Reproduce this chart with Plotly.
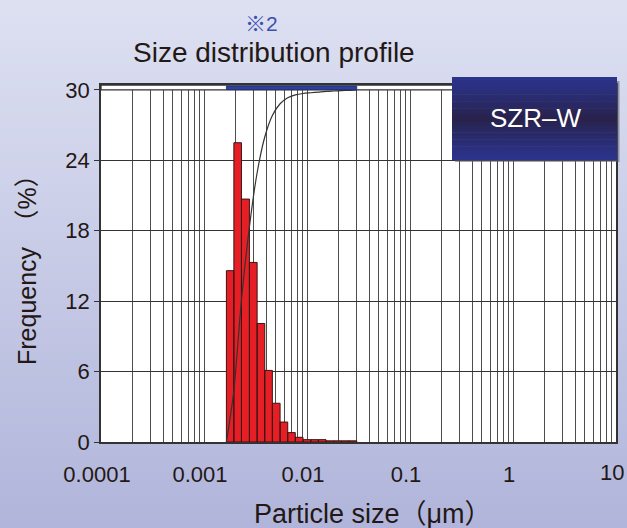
import numpy as np
import plotly.graph_objects as go

# ---------------- data ----------------
bin_edges_um = [0.00165, 0.00195, 0.00231, 0.00276, 0.00328, 0.00389, 0.00461,
                0.00548, 0.0065, 0.0077, 0.00915, 0.0109, 0.0129, 0.0153,
                0.0182, 0.0216, 0.0256, 0.0304]
frequency_pct = [14.6, 25.5, 20.7, 15.3, 10.1, 6.1, 3.3, 1.7, 0.8, 0.4,
                 0.2, 0.2, 0.2, 0.1, 0.1, 0.1, 0.1]
x_decades = [0.0001, 0.001, 0.01, 0.1, 1, 10]
x_tick_labels = ["0.0001", "0.001", "0.01", "0.1", "1", "10"]
y_tick_values = [0, 6, 12, 18, 24, 30]
y_max = 30
sample_name = "SZR\u2013W"
title_text = "Size distribution profile"
note_text = "\u203b2"
x_title = "Particle size\uff08\u03bcm\uff09"
y_title = "Frequency\u3000\uff08%\uff09"

# ---------------- layout geometry ----------------
W, H = 627, 528
L, R, T, B = 101, 616, 85, 442
PW, PH = R - L, B - T
Y_TOP = 30.42


def px2x(p):
    return (p - L) / PW


def py2y(p):
    return (B - p) / PH


def lx(v):  # data value on the log axis -> paper x
    return (np.log10(v) + 4) / 5


FONT = "Liberation Sans, Arial, Noto Sans CJK JP, sans-serif"
INK = "#231815"

fig = go.Figure()

# histogram bars as filled polygons
bx, by = [], []
for l, r, h in zip(bin_edges_um[:-1], bin_edges_um[1:], frequency_pct):
    bx += [l, l, r, r, l, None]
    by += [0, h, h, 0, 0, None]
fig.add_trace(go.Scatter(x=bx, y=by, mode="lines", fill="toself",
                         fillcolor="#e61f26",
                         line=dict(color="#3a1515", width=1),
                         hoverinfo="skip", showlegend=False))

# cumulative curve (100 % drawn at the 30 line)
cum = np.cumsum(frequency_pct)
cum = cum / cum[-1] * y_max
fig.add_trace(go.Scatter(x=bin_edges_um, y=[0] + list(cum), mode="lines",
                         line=dict(color="#333333", width=1.2, shape="spline",
                                   smoothing=0.8),
                         hoverinfo="skip", showlegend=False))

# x grid at every 1..9 x 10^k; the last decade label is drawn as annotation
grid_vals, grid_text = [], []
for k, d in enumerate(x_decades):
    for m in range(1, 10):
        v = m * d
        if v > x_decades[-1] * 1.0001:
            break
        grid_vals.append(v)
        grid_text.append(x_tick_labels[k] if (m == 1 and k < len(x_decades) - 1) else "")

shapes = []
# background gradient bands
N = 66
top_c = np.array([222, 225, 242])
bot_c = np.array([177, 181, 219])
for i in range(N):
    p0 = i * H / N
    p1 = (i + 1) * H / N + 0.6
    c = top_c + (bot_c - top_c) * (i + 0.5) / N
    shapes.append(dict(type="rect", xref="paper", yref="paper",
                       x0=px2x(-5), x1=px2x(W + 5), y0=py2y(p1), y1=py2y(p0),
                       fillcolor="rgb(%d,%d,%d)" % tuple(c.astype(int)),
                       line=dict(width=0), layer="below"))
# white plot area
shapes.append(dict(type="rect", xref="paper", yref="paper", x0=0, x1=1, y0=0, y1=1,
                   fillcolor="white", line=dict(width=0), layer="below"))
# white top strip above the 30 line
y30 = y_max / Y_TOP
shapes.append(dict(type="rect", xref="paper", yref="paper", x0=0, x1=1, y0=y30, y1=1,
                   fillcolor="white", line=dict(color="#333333", width=1.3),
                   layer="above"))
# blue range bar in the top strip
shapes.append(dict(type="rect", xref="paper", yref="paper",
                   x0=lx(bin_edges_um[0]), x1=lx(bin_edges_um[-1]),
                   y0=y30 + 0.001, y1=1 - 0.003,
                   fillcolor="#2b40a0", line=dict(color="#1d2a70", width=0.8),
                   layer="above"))
# sample label box with shadow and vertical gradient
bx0, bx1, by0, by1 = 452, 617, 77, 160
shapes.append(dict(type="rect", xref="paper", yref="paper",
                   x0=px2x(bx0 + 3), x1=px2x(bx1 + 2.5), y0=py2y(by1 + 2), y1=py2y(by0 + 4),
                   fillcolor="rgba(90,90,110,0.55)", line=dict(width=0), layer="above"))
NB = 24
edge_c = np.array([44, 52, 142])
mid_c = np.array([40, 33, 72])
for i in range(NB):
    p0 = by0 + i * (by1 - by0) / NB
    p1 = by0 + (i + 1) * (by1 - by0) / NB + 0.5
    t = abs((i + 0.5) / NB - 0.5) * 2
    c = mid_c + (edge_c - mid_c) * t ** 0.8
    shapes.append(dict(type="rect", xref="paper", yref="paper",
                       x0=px2x(bx0), x1=px2x(bx1), y0=py2y(min(p1, by1)), y1=py2y(p0),
                       fillcolor="rgb(%d,%d,%d)" % tuple(c.astype(int)),
                       line=dict(width=0), layer="above"))

annotations = [
    dict(text=note_text, x=px2x(261), y=py2y(24), xref="paper", yref="paper",
         showarrow=False, xanchor="center", yanchor="middle",
         font=dict(family=FONT, size=21, color="#3b4fae")),
    dict(text=title_text, x=px2x(274), y=py2y(52), xref="paper", yref="paper",
         showarrow=False, xanchor="center", yanchor="middle",
         font=dict(family=FONT, size=28, color=INK)),
    dict(text=x_title, x=px2x(373), y=py2y(514), xref="paper", yref="paper",
         showarrow=False, xanchor="center", yanchor="middle",
         font=dict(family=FONT, size=27, color=INK)),
    dict(text=y_title, x=px2x(27), y=py2y(264), xref="paper", yref="paper",
         showarrow=False, xanchor="center", yanchor="middle", textangle=-90,
         font=dict(family=FONT, size=25, color=INK)),
    dict(text=sample_name, x=px2x(535), y=py2y(118), xref="paper", yref="paper",
         showarrow=False, xanchor="center", yanchor="middle",
         font=dict(family=FONT, size=26, color="white")),
    dict(text=x_tick_labels[-1], x=px2x(627), y=py2y(473), xref="paper", yref="paper",
         showarrow=False, xanchor="right", yanchor="middle", xshift=-1,
         font=dict(family=FONT, size=22, color=INK)),
]

fig.update_layout(
    width=W, height=H, autosize=False,
    margin=dict(l=L, r=W - R, t=T, b=H - B, pad=0),
    paper_bgcolor="#c8cbe6", plot_bgcolor="white",
    showlegend=False,
    shapes=shapes, annotations=annotations,
    xaxis=dict(type="log", range=[-4, 1], tickmode="array",
               tickvals=grid_vals, ticktext=grid_text, automargin=False,
               showgrid=True, gridcolor="#4d4d4d", gridwidth=1,
               showline=True, mirror=True, linecolor="#333333", linewidth=1.5,
               ticks="", ticklabelstandoff=12, ticklabelshift=-4, zeroline=False,
               tickfont=dict(family=FONT, size=22, color=INK)),
    yaxis=dict(range=[0, Y_TOP], tickmode="array", tickvals=y_tick_values,
               automargin=False,
               showgrid=True, gridcolor="#333333", gridwidth=1.3,
               showline=True, mirror=True, linecolor="#333333", linewidth=1.5,
               ticks="outside", ticklen=5, tickcolor="#333333", tickwidth=1.3,
               zeroline=False,
               tickfont=dict(family=FONT, size=22, color=INK)),
)

fig.write_html(
    "out.html",
    config={"displayModeBar": False, "responsive": False},
    post_script=(
        "document.documentElement.style.overflow='hidden';"
        "document.body.style.margin='0px';"
        "document.body.style.overflow='hidden';"
        "var gd=document.getElementById('{plot_id}');"
        "Plotly.relayout(gd,{width:%d,height:%d});" % (W, H)
    ),
)
